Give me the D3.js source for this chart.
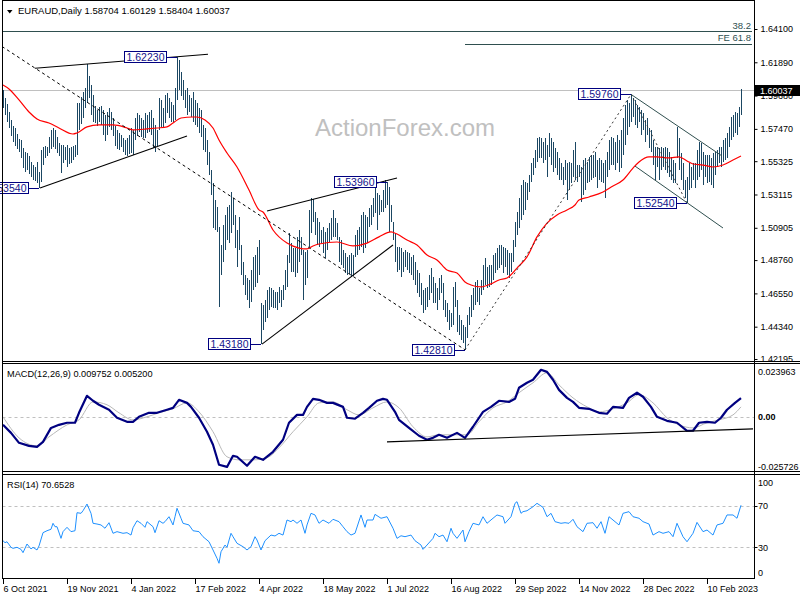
<!DOCTYPE html>
<html><head><meta charset="utf-8">
<script src="https://cdn.jsdelivr.net/npm/d3@7"></script>
<style>
html,body{margin:0;padding:0;background:#fff;}
svg{display:block;font-family:"Liberation Sans",Arial,sans-serif;}
</style></head><body>
<svg id="c" width="800" height="600"></svg>
<script>
// ---------- DATA ----------
const header = "EURAUD,Daily 1.58704 1.60129 1.58404 1.60037";
const macdTitle = "MACD(12,26,9) 0.009752 0.005200";
const rsiTitle = "RSI(14) 70.6528";
const watermark = "ActionForex.com";
const lastPrice = 1.60037;

const barHigh = [
1.6005,1.5952,1.5912,1.5859,1.5806,1.5766,1.5753,1.5713,1.5680,1.5673,
1.5620,1.5594,1.5587,1.5567,1.5527,1.5507,1.5494,1.5527,1.5461,1.5607,
1.5627,1.5633,1.5627,1.5694,1.5740,1.5753,1.5740,1.5694,1.5653,1.5640,
1.5640,1.5627,1.5640,1.5620,1.5627,1.5633,1.5640,1.5919,1.5919,1.5959,
1.5992,1.6019,1.6177,1.6098,1.6039,1.5972,1.5899,1.5872,1.5893,1.5899,
1.5872,1.5839,1.5859,1.5886,1.5859,1.5819,1.5766,1.5740,1.5720,1.5707,
1.5687,1.5673,1.5687,1.5707,1.5753,1.5740,1.5819,1.5852,1.5839,1.5819,
1.5806,1.5852,1.5839,1.5859,1.5872,1.5819,1.5773,1.5740,1.5952,1.5939,
1.5886,1.5972,1.5985,1.5952,1.5926,1.5906,1.6019,1.6223,1.6204,1.6125,
1.6072,1.6005,1.6019,1.5972,1.5952,1.5992,1.5939,1.5919,1.5886,1.5872,
1.5773,1.5753,1.5673,1.5594,1.5474,1.5388,1.5275,1.5229,1.5096,1.4976,
1.5109,1.5176,1.5229,1.5242,1.5328,1.5288,1.5176,1.5076,1.5163,1.4976,
1.4864,1.4777,1.4757,1.4744,1.4810,1.4897,1.4910,1.4963,1.5009,1.4591,
1.4578,1.4611,1.4678,1.4698,1.4691,1.4678,1.4665,1.4665,1.4698,1.4678,
1.4711,1.4810,1.4910,1.5056,1.4989,1.4956,1.4956,1.5030,1.5076,1.5030,
1.4943,1.4930,1.4943,1.5209,1.5288,1.5281,1.5196,1.5156,1.5129,1.5076,
1.5096,1.5063,1.5089,1.5122,1.5156,1.5209,1.5156,1.5122,1.5030,1.5009,
1.4943,1.4923,1.4897,1.4910,1.4923,1.4910,1.5043,1.5076,1.5096,1.5176,
1.5196,1.5176,1.5163,1.5222,1.5242,1.5288,1.5355,1.5321,1.5308,1.5275,
1.5341,1.5408,1.5396,1.5362,1.5242,1.5129,1.5056,1.4963,1.4963,1.4956,
1.4930,1.4943,1.4930,1.4923,1.4897,1.4910,1.4864,1.4810,1.4790,1.4724,
1.4678,1.4691,1.4698,1.4777,1.4823,1.4764,1.4724,1.4691,1.4757,1.4777,
1.4724,1.4611,1.4591,1.4545,1.4525,1.4698,1.4731,1.4611,1.4512,1.4478,
1.4445,1.4432,1.4512,1.4565,1.4645,1.4691,1.4731,1.4744,1.4691,1.4744,
1.4843,1.4890,1.4831,1.4843,1.4843,1.4910,1.4923,1.4956,1.4976,1.4976,
1.4963,1.4956,1.4943,1.4923,1.4923,1.5009,1.5129,1.5196,1.5288,1.5374,
1.5408,1.5395,1.5388,1.5441,1.5520,1.5554,1.5607,1.5687,1.5694,1.5687,
1.5660,1.5687,1.5640,1.5720,1.5687,1.5660,1.5620,1.5594,1.5554,1.5520,
1.5494,1.5540,1.5520,1.5527,1.5520,1.5607,1.5660,1.5507,1.5507,1.5494,
1.5540,1.5554,1.5527,1.5561,1.5574,1.5574,1.5594,1.5540,1.5554,1.5540,
1.5520,1.5540,1.5594,1.5673,1.5694,1.5687,1.5660,1.5707,1.5673,1.5740,
1.5819,1.5906,1.5939,1.5919,1.5976,1.5952,1.5939,1.5906,1.5893,1.5872,
1.5852,1.5806,1.5819,1.5753,1.5740,1.5673,1.5627,1.5627,1.5620,1.5627,
1.5620,1.5627,1.5620,1.5594,1.5561,1.5540,1.5520,1.5760,1.5687,1.5587,
1.5520,1.5408,1.5428,1.5520,1.5494,1.5520,1.5520,1.5607,1.5660,1.5653,
1.5594,1.5574,1.5574,1.5574,1.5554,1.5587,1.5594,1.5607,1.5627,1.5627,
1.5673,1.5687,1.5720,1.5760,1.5826,1.5839,1.5859,1.5852,1.5893,1.60129
];
const barLow = [
1.5886,1.5839,1.5793,1.5753,1.5700,1.5660,1.5633,1.5613,1.5594,1.5554,
1.5487,1.5461,1.5474,1.5447,1.5428,1.5408,1.5401,1.5388,1.5354,1.5395,
1.5507,1.5554,1.5567,1.5587,1.5613,1.5627,1.5613,1.5587,1.5567,1.5454,
1.5520,1.5540,1.5494,1.5513,1.5520,1.5540,1.5561,1.5574,1.5740,1.5779,
1.5819,1.5886,1.5919,1.5952,1.5839,1.5793,1.5786,1.5766,1.5793,1.5773,
1.5707,1.5666,1.5707,1.5760,1.5740,1.5700,1.5633,1.5613,1.5607,1.5627,
1.5594,1.5574,1.5567,1.5580,1.5587,1.5574,1.5673,1.5700,1.5727,1.5694,
1.5687,1.5687,1.5720,1.5727,1.5707,1.5620,1.5594,1.5633,1.5740,1.5760,
1.5753,1.5786,1.5852,1.5819,1.5793,1.5793,1.5806,1.5939,1.6005,1.5965,
1.5939,1.5886,1.5839,1.5859,1.5826,1.5793,1.5773,1.5760,1.5720,1.5694,
1.5607,1.5594,1.5507,1.5441,1.5308,1.5089,1.5076,1.5063,1.4565,1.4777,
1.4864,1.4943,1.5009,1.4989,1.5056,1.5109,1.4956,1.4831,1.4943,1.4777,
1.4711,1.4645,1.4611,1.4558,1.4598,1.4678,1.4698,1.4724,1.4777,1.4318,
1.4412,1.4465,1.4492,1.4545,1.4565,1.4558,1.4558,1.4545,1.4591,1.4565,
1.4611,1.4678,1.4698,1.4857,1.4797,1.4797,1.4764,1.4790,1.4864,1.4910,
1.4611,1.4711,1.4757,1.4963,1.5056,1.5129,1.5043,1.4976,1.4963,1.4989,
1.4923,1.4890,1.4943,1.4996,1.5009,1.5030,1.5030,1.5009,1.4864,1.4844,
1.4823,1.4790,1.4777,1.4783,1.4764,1.4770,1.4897,1.4910,1.4943,1.4963,
1.4923,1.4956,1.4989,1.5096,1.5109,1.5163,1.5189,1.5076,1.5176,1.5196,
1.5196,1.5222,1.5242,1.5063,1.5129,1.5009,1.4864,1.4797,1.4810,1.4764,
1.4797,1.4831,1.4810,1.4790,1.4777,1.4744,1.4711,1.4658,1.4632,1.4578,
1.4525,1.4545,1.4565,1.4611,1.4658,1.4591,1.4591,1.4545,1.4611,1.4658,
1.4545,1.4499,1.4465,1.4412,1.4432,1.4445,1.4565,1.4399,1.4379,1.4346,
1.4326,1.4281,1.4359,1.4445,1.4499,1.4545,1.4578,1.4598,1.4578,1.4645,
1.4678,1.4711,1.4691,1.4698,1.4711,1.4744,1.4790,1.4810,1.4823,1.4843,
1.4790,1.4831,1.4777,1.4757,1.4797,1.4864,1.4963,1.5043,1.5089,1.5142,
1.5176,1.5209,1.5275,1.5328,1.5395,1.5441,1.5487,1.5527,1.5554,1.5554,
1.5520,1.5540,1.5428,1.5561,1.5507,1.5461,1.5487,1.5441,1.5408,1.5408,
1.5374,1.5408,1.5275,1.5341,1.5388,1.5428,1.5408,1.5395,1.5428,1.5262,
1.5308,1.5341,1.5388,1.5395,1.5408,1.5421,1.5428,1.5354,1.5408,1.5395,
1.5388,1.5288,1.5428,1.5474,1.5507,1.5507,1.5474,1.5520,1.5461,1.5487,
1.5574,1.5640,1.5707,1.5760,1.5793,1.5826,1.5773,1.5753,1.5793,1.5707,
1.5740,1.5660,1.5707,1.5620,1.5594,1.5507,1.5408,1.5494,1.5408,1.5474,
1.5494,1.5474,1.5454,1.5428,1.5408,1.5388,1.5388,1.5554,1.5474,1.5408,
1.5341,1.5288,1.5254,1.5341,1.5354,1.5408,1.5355,1.5408,1.5428,1.5474,
1.5374,1.5428,1.5388,1.5395,1.5374,1.5355,1.5441,1.5494,1.5520,1.5494,
1.5527,1.5540,1.5554,1.5627,1.5673,1.5694,1.5720,1.5707,1.5760,1.58404
];
// moving average (bar index, price)
const maPoints = [[0,1.6038],[3,1.6012],[8,1.5939],[13,1.5859],[17,1.5813],[23,1.5786],[28,1.5753],[35,1.5713],[37,1.5720],[42,1.5760],[48,1.5773],[55,1.5773],[62,1.5753],[65,1.5740],[72,1.5747],[77,1.5753],[82,1.5760],[85,1.5786],[89,1.5819],[95,1.5826],[97,1.5826],[101,1.5806],[105,1.5753],[108,1.5673],[112,1.5587],[117,1.5494],[123,1.5341],[128,1.5209],[130,1.5195],[135,1.5076],[142,1.4989],[148,1.4956],[152,1.4950],[155,1.4970],[158,1.4983],[167,1.4996],[175,1.4970],[182,1.4989],[188,1.5030],[194,1.5063],[197,1.5049],[202,1.5009],[207,1.4976],[212,1.4910],[217,1.4877],[222,1.4810],[227,1.4790],[231,1.4731],[234,1.4711],[239,1.4698],[244,1.4718],[248,1.4744],[252,1.4757],[257,1.4823],[262,1.4897],[267,1.5030],[272,1.5122],[277,1.5176],[282,1.5209],[286,1.5242],[288,1.5275],[293,1.5295],[300,1.5328],[305,1.5368],[310,1.5408],[315,1.5487],[318,1.5527],[323,1.5561],[327,1.5561],[333,1.5554],[338,1.5561],[342,1.5534],[345,1.5514],[350,1.5507],[355,1.5494],[360,1.5507],[365,1.5540],[369,1.5567]];
const macdMain = [[0,-0.0042],[4,-0.0084],[8,-0.0136],[13,-0.0152],[17,-0.0157],[20,-0.0131],[24,-0.0058],[28,-0.0042],[32,-0.0031],[36,-0.0031],[38,0.0021],[42,0.0110],[45,0.0084],[48,0.0063],[53,0.0037],[57,-0.0005],[62,-0.0026],[65,-0.0026],[68,0],[73,0.0021],[77,0.0021],[82,0.0037],[85,0.0047],[88,0.0089],[92,0.0073],[94,0.0052],[98,-0.0005],[102,-0.0078],[105,-0.0146],[108,-0.0251],[112,-0.0262],[115,-0.0204],[117,-0.0209],[122,-0.0256],[126,-0.0209],[130,-0.0225],[135,-0.0183],[140,-0.0120],[143,-0.0031],[147,0.0010],[150,0.0010],[152,0.0052],[155,0.0094],[158,0.0089],[162,0.0073],[165,0.0073],[170,0.0052],[172,-0.0005],[176,-0.0010],[180,0.0021],[183,0.0047],[187,0.0084],[190,0.0094],[192,0.0089],[196,0.0026],[198,-0.0016],[203,-0.0058],[208,-0.0099],[212,-0.0120],[215,-0.0110],[218,-0.0094],[222,-0.0110],[227,-0.0084],[231,-0.0110],[235,-0.0052],[240,0.0026],[244,0.0052],[248,0.0084],[253,0.0078],[256,0.0094],[258,0.0152],[262,0.0178],[265,0.0194],[269,0.0246],[272,0.0235],[275,0.0194],[278,0.0141],[282,0.0099],[285,0.0078],[288,0.0047],[293,0.0042],[298,0.0021],[302,0.0016],[305,0.0052],[310,0.0047],[313,0.0099],[317,0.0126],[320,0.0105],[324,0.0052],[327,0],[332,-0.0021],[337,-0.0031],[342,-0.0073],[345,-0.0073],[348,-0.0031],[352,-0.0026],[356,-0.0031],[359,-0.0005],[362,0.0037],[366,0.0073],[369,0.009752]];
const macdSignal = [[0,0],[8,-0.0110],[17,-0.0152],[23,-0.0105],[32,-0.0042],[38,-0.0016],[45,0.0078],[52,0.0063],[58,0.0021],[65,-0.0016],[72,0],[78,0.0021],[85,0.0042],[92,0.0073],[98,0.0026],[105,-0.0078],[112,-0.0209],[118,-0.0225],[125,-0.0225],[132,-0.0214],[138,-0.0162],[145,-0.0078],[152,0],[158,0.0073],[165,0.0078],[172,0.0037],[178,0.0010],[185,0.0047],[192,0.0078],[198,0.0047],[205,-0.0052],[212,-0.0105],[218,-0.0094],[225,-0.0094],[232,-0.0094],[238,-0.0026],[245,0.0047],[252,0.0078],[258,0.0126],[265,0.0178],[272,0.0230],[278,0.0167],[285,0.0099],[292,0.0052],[298,0.0026],[305,0.0042],[312,0.0073],[318,0.0115],[325,0.0073],[332,-0.0005],[338,-0.0042],[345,-0.0058],[352,-0.0031],[358,-0.0016],[365,0.0010],[369,0.0052]];
const rsiPoints = [[0,36.2],[1,34.3],[2,35.2],[4,29.8],[5,28.8],[7,29.8],[9,27.8],[10,24.6],[12,33.0],[14,28.2],[15,29.8],[17,27.2],[18,31.1],[20,44.0],[22,45.9],[24,47.3],[25,53.1],[26,49.8],[27,49.8],[29,38.5],[30,45.0],[32,49.2],[34,45.0],[36,45.9],[37,63.4],[39,62.8],[40,65.3],[42,71.8],[44,62.8],[45,53.1],[47,52.4],[49,51.5],[51,48.3],[53,53.7],[55,43.4],[57,45.0],[60,43.4],[62,44.0],[64,41.7],[65,48.8],[67,55.6],[69,53.1],[71,49.2],[72,54.7],[75,49.8],[76,44.0],[78,55.6],[80,53.1],[81,54.7],[83,59.5],[85,51.5],[86,59.5],[87,67.7],[89,58.0],[90,53.1],[93,51.5],[95,45.9],[98,45.0],[100,40.1],[103,35.2],[105,27.2],[107,19.1],[108,14.3],[109,25.5],[111,32.0],[112,29.8],[114,43.4],[115,40.1],[117,33.7],[120,30.4],[122,27.2],[124,30.4],[126,40.1],[127,36.9],[129,27.2],[131,36.2],[134,41.7],[136,40.8],[138,43.4],[140,41.7],[142,56.3],[144,54.7],[145,56.3],[147,53.1],[149,56.3],[151,43.4],[152,51.5],[154,62.8],[156,61.2],[158,53.1],[160,56.3],[163,53.1],[165,57.0],[168,54.7],[170,49.8],[172,45.0],[174,41.7],[176,43.4],[179,61.2],[181,49.2],[182,56.3],[185,56.3],[186,61.8],[189,58.0],[192,59.5],[195,48.3],[197,38.5],[199,41.0],[201,40.1],[204,41.7],[206,36.2],[209,32.0],[210,27.8],[212,32.0],[215,38.5],[216,43.4],[218,40.1],[220,41.7],[222,35.2],[224,48.3],[225,43.4],[227,38.5],[230,46.6],[231,35.2],[233,45.0],[235,53.1],[238,51.5],[240,59.5],[242,53.1],[245,58.0],[247,61.2],[250,59.5],[251,53.1],[254,59.5],[256,72.5],[257,74.1],[259,62.8],[260,64.4],[262,65.3],[265,69.2],[267,72.5],[270,68.6],[272,59.5],[274,62.8],[276,54.7],[279,53.1],[281,53.7],[283,53.1],[285,57.0],[287,49.8],[290,45.0],[292,53.1],[295,53.7],[297,48.3],[299,54.7],[301,43.4],[303,59.5],[305,56.3],[308,51.5],[310,62.8],[313,64.4],[315,59.5],[318,58.0],[320,54.7],[323,52.4],[325,41.7],[328,45.0],[330,43.4],[333,45.0],[335,40.1],[337,53.1],[340,40.1],[342,35.2],[345,43.4],[347,54.0],[350,45.0],[352,46.6],[355,41.7],[357,51.5],[360,53.1],[362,61.2],[365,61.2],[367,58.0],[369,70.65]];

const priceTicks = [1.64100,1.61890,1.59680,1.57470,1.55325,1.53115,1.50905,1.48760,1.46550,1.44340,1.42195];
const macdTicks = [0.023963, 0, -0.025726];
const rsiTicks = [100, 70, 30, 0];
const rsiLevels = [70, 30];
const dateTickIdx = [0,32,64,96,128,160,192,224,256,288,320,352];
const dateTickLabels = ["6 Oct 2021","19 Nov 2021","4 Jan 2022","17 Feb 2022","4 Apr 2022","18 May 2022","1 Jul 2022","16 Aug 2022","29 Sep 2022","14 Nov 2022","28 Dec 2022","10 Feb 2023"];

const pivotLabels = [
  {i:87, p:1.6223, t:"1.62230"}, {i:18, p:1.5354, t:"1.53540"}, {i:192, p:1.5396, t:"1.53960"},
  {i:129, p:1.4318, t:"1.43180"}, {i:231, p:1.4281, t:"1.42810"}, {i:314, p:1.5976, t:"1.59760"},
  {i:342, p:1.5254, t:"1.52540"}];
const fibLevels = [{p:1.6395, from:-2, t:"38.2"}, {p:1.6312, from:231, t:"FE 61.8"}];
const solidLines = [[[16,1.6149],[102.5,1.6242]], [[18.5,1.5354],[92,1.5700]], [[132,1.5202],[197,1.5421]], [[129.5,1.4318],[195,1.4976]]];
const dashedLines = [[[-0.5,1.6294],[231,1.4281]]];
const dottedLines = [[[231,1.4281],[314,1.5976]], [[314,1.5976],[342,1.5254]]];
const channelLines = [[[314,1.5976],[359.5,1.5567]], [[316,1.5500],[360,1.5089]]];
const macdTrend = [[192,-0.0131],[375,-0.0063]];

// ---------- LAYOUT ----------
const L = 2.5, R = 754.5;
const main = {top:0.5, bottom:361.5};
const mp = {top:363.5, bottom:471.5};
const rp = {top:474.5, bottom:578.5};
const AX = 9; // axis font size

const svg = d3.select('#c');
const x = d3.scaleLinear().domain([0, 369]).range([3, 741]);
const yP = d3.scaleLinear().domain([1.42195, 1.64100]).range([359, 29]);
const yM = d3.scaleLinear().domain([-0.025726, 0.023963]).range([466, 371]);
const yR = d3.scaleLinear().domain([0, 100]).range([578, 475]);

const defs = svg.append('defs');
function clip(id, top, bottom){
  defs.append('clipPath').attr('id', id).append('rect')
    .attr('x', L).attr('y', top).attr('width', R - L).attr('height', bottom - top);
}
clip('cm', main.top, main.bottom); clip('cmacd', mp.top, mp.bottom); clip('crsi', rp.top, rp.bottom);

svg.append('rect').attr('width',800).attr('height',600).attr('fill','#fff');

// watermark
svg.append('text').attr('x',315).attr('y',136).attr('font-size',24).attr('fill','#c0c0c0').text(watermark);

const gm = svg.append('g').attr('clip-path','url(#cm)');
fibLevels.forEach(f=>{
  gm.append('line').attr('x1',x(f.from)).attr('x2',752).attr('y1',Math.round(yP(f.p))+0.5).attr('y2',Math.round(yP(f.p))+0.5)
    .attr('stroke','#2f4f4f').attr('stroke-width',1);
});
gm.append('line').attr('x1',L).attr('x2',R).attr('y1',Math.round(yP(lastPrice))+0.5).attr('y2',Math.round(yP(lastPrice))+0.5)
  .attr('stroke','#c0c0c0').attr('stroke-width',1);

// bars
gm.append('g').selectAll('line').data(d3.range(barHigh.length)).join('line')
  .attr('x1', i=>Math.round(x(i))+0.5).attr('x2', i=>Math.round(x(i))+0.5)
  .attr('y1', i=>yP(barHigh[i])).attr('y2', i=>yP(barLow[i]))
  .attr('stroke','#1b4763').attr('stroke-width',1).attr('shape-rendering','crispEdges');

// MA
gm.append('path').datum(maPoints)
  .attr('d', d3.line().x(d=>x(d[0])).y(d=>yP(d[1])).curve(d3.curveMonotoneX))
  .attr('fill','none').attr('stroke','#ff0000').attr('stroke-width',1.2);

// trendlines
const ln = d3.line().x(d=>x(d[0])).y(d=>yP(d[1]));
solidLines.forEach(s=>gm.append('path').attr('d',ln(s)).attr('stroke','#000').attr('stroke-width',1.1).attr('fill','none'));
dashedLines.forEach(s=>gm.append('path').attr('d',ln(s)).attr('stroke','#000').attr('stroke-width',1).attr('stroke-dasharray','3,3').attr('fill','none'));
dottedLines.forEach(s=>gm.append('path').attr('d',ln(s)).attr('stroke','#333').attr('stroke-width',1).attr('stroke-dasharray','2,3').attr('fill','none'));
channelLines.forEach(s=>gm.append('path').attr('d',ln(s)).attr('stroke','#2f4f4f').attr('stroke-width',1).attr('fill','none'));

// fib labels
fibLevels.forEach(f=>{
  svg.append('text').attr('x',751).attr('y',yP(f.p)-2.5).attr('text-anchor','end').attr('font-size',9.5).attr('fill','#2f4f4f').text(f.t);
});

// pivot labels
pivotLabels.forEach(d=>{
  const bx = Math.round(x(d.i)), by = yP(d.p);
  svg.append('line').attr('x1',bx-10).attr('x2',bx).attr('y1',Math.round(by)+0.5).attr('y2',Math.round(by)+0.5)
    .attr('stroke','#000080').attr('stroke-width',1);
  svg.append('rect').attr('x',bx-52.5).attr('y',Math.round(by)-5.5).attr('width',42).attr('height',11)
    .attr('fill','#fff').attr('stroke','#000080').attr('stroke-width',1);
  svg.append('text').attr('x',bx-31.5).attr('y',Math.round(by)+4).attr('text-anchor','middle')
    .attr('font-size',10.5).attr('fill','#14148c').text(d.t);
});

// ---------- MACD ----------
const gmacd = svg.append('g').attr('clip-path','url(#cmacd)');
gmacd.append('line').attr('x1',L).attr('x2',R).attr('y1',Math.round(yM(0))+0.5).attr('y2',Math.round(yM(0))+0.5)
  .attr('stroke','#c0c0c0').attr('stroke-dasharray','3,3');
gmacd.append('path').datum(macdSignal)
  .attr('d', d3.line().x(d=>x(d[0])).y(d=>yM(d[1])).curve(d3.curveMonotoneX))
  .attr('fill','none').attr('stroke','#b8b8b8').attr('stroke-width',1);
gmacd.append('path').datum(macdMain)
  .attr('d', d3.line().x(d=>x(d[0])).y(d=>yM(d[1])))
  .attr('fill','none').attr('stroke','#000080').attr('stroke-width',2.2).attr('stroke-linejoin','round');
gmacd.append('path').attr('d', d3.line().x(d=>x(d[0])).y(d=>yM(d[1]))(macdTrend))
  .attr('stroke','#000').attr('stroke-width',1.1).attr('fill','none');

// ---------- RSI ----------
const grsi = svg.append('g').attr('clip-path','url(#crsi)');
rsiLevels.forEach(v=>{
  grsi.append('line').attr('x1',L).attr('x2',R).attr('y1',Math.round(yR(v))+0.5).attr('y2',Math.round(yR(v))+0.5)
    .attr('stroke','#c0c0c0').attr('stroke-dasharray','3,3');
});
grsi.append('path').datum(rsiPoints)
  .attr('d', d3.line().x(d=>x(d[0])).y(d=>yR(d[1])))
  .attr('fill','none').attr('stroke','#1e90ff').attr('stroke-width',1);

// ---------- FRAMES ----------
const fr = svg.append('g').attr('stroke','#000').attr('stroke-width',1).attr('fill','none').attr('shape-rendering','crispEdges');
fr.append('line').attr('x1',L).attr('x2',L).attr('y1',0).attr('y2',rp.bottom);
fr.append('line').attr('x1',R).attr('x2',R).attr('y1',0).attr('y2',rp.bottom);
fr.append('line').attr('x1',L).attr('x2',R).attr('y1',main.top).attr('y2',main.top);
[main.bottom, mp.top, mp.bottom, rp.top].forEach(yv=>fr.append('line').attr('x1',L).attr('x2',800).attr('y1',yv).attr('y2',yv));
fr.append('line').attr('x1',L).attr('x2',R).attr('y1',rp.bottom).attr('y2',rp.bottom);

// ---------- AXES ----------
const axP = svg.append('g').attr('transform',`translate(${R},0)`)
  .call(d3.axisRight(yP).tickValues(priceTicks).tickSize(3).tickPadding(3).tickFormat(d3.format('.5f')));
axP.select('.domain').remove();
axP.selectAll('text').attr('font-size',AX).attr('font-family','Liberation Sans, Arial, sans-serif').attr('fill','#000');
axP.selectAll('line').attr('stroke','#000');

// last price box
svg.append('rect').attr('x',755).attr('y',Math.round(yP(lastPrice))-5).attr('width',45).attr('height',11).attr('fill','#000');
svg.append('text').attr('x',760).attr('y',Math.round(yP(lastPrice))+4).attr('font-size',AX).attr('fill','#fff').text(lastPrice.toFixed(5));

// MACD axis labels
macdTicks.forEach(v=>{
  svg.append('text').attr('x',758).attr('y',yM(v)+3.5).attr('font-size',AX)
    .attr('font-weight', v===0 ? 'bold' : 'normal').attr('fill','#000')
    .text(v===0 ? '0.00' : String(v));
});
// RSI axis labels
rsiTicks.forEach(v=>{
  const yy = Math.min(Math.max(yR(v), 482), 572.5);
  svg.append('text').attr('x',758).attr('y',yy+3.5).attr('font-size',AX).attr('fill','#000').text(v);
});
rsiLevels.forEach(v=>svg.append('line').attr('x1',R).attr('x2',R+3).attr('y1',Math.round(yR(v))+0.5).attr('y2',Math.round(yR(v))+0.5).attr('stroke','#000'));

// date axis
dateTickIdx.forEach((di,k)=>{
  const tx = Math.round(x(di))+0.5;
  svg.append('line').attr('x1',tx).attr('x2',tx).attr('y1',rp.bottom).attr('y2',584).attr('stroke','#000').attr('shape-rendering','crispEdges');
  svg.append('text').attr('x',tx).attr('y',592).attr('font-size',AX).attr('fill','#000').text(dateTickLabels[k]);
});

// titles
svg.append('path').attr('d','M7,10 L12.5,10 L9.75,13.5 Z').attr('fill','#000');
svg.append('text').attr('x',18).attr('y',14).attr('font-size',9.5).attr('fill','#000').text(header);
svg.append('text').attr('x',7).attr('y',377).attr('font-size',9.2).attr('fill','#000').text(macdTitle);
svg.append('text').attr('x',7).attr('y',487.5).attr('font-size',9.2).attr('fill','#000').text(rsiTitle);
</script>
</body></html>
